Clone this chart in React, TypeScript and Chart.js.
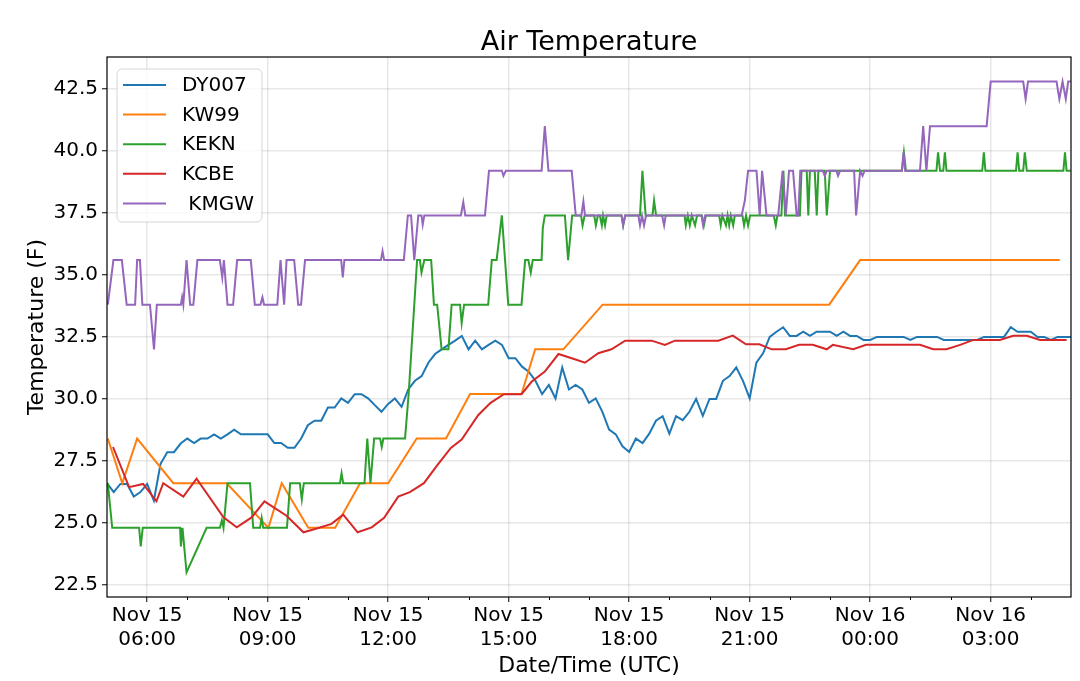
import React, { useEffect, useRef } from 'react';
import { Chart, registerables } from 'chart.js';

Chart.register(...registerables);

const FONT = "'DejaVu Sans', 'Liberation Sans', sans-serif";

// ---------- texts ----------
const titleText = 'Air Temperature';
const xAxisTitle = 'Date/Time (UTC)';
const yAxisTitle = 'Temperature (F)';

// ---------- series meta ----------
const seriesNames = ['DY007', 'KW99', 'KEKN', 'KCBE', ' KMGW'];
const seriesColors = ['#1f77b4', '#ff7f0e', '#2ca02c', '#d62728', '#9467bd'];

// ---------- axes (hours since Nov 15 00:00 UTC) ----------
const xMin = 5;
const xMax = 29;
const yMin = 22.01;
const yMax = 43.79;
const xTickHours = [6, 9, 12, 15, 18, 21, 24, 27];
const xTickDates = ['Nov 15', 'Nov 15', 'Nov 15', 'Nov 15', 'Nov 15', 'Nov 15', 'Nov 16', 'Nov 16'];
const xTickTimes = ['06:00', '09:00', '12:00', '15:00', '18:00', '21:00', '00:00', '03:00'];
const xMinorHours = [7, 8, 10, 11, 13, 14, 16, 17, 19, 20, 22, 23, 25, 26, 28];
const yTicks = [22.5, 25.0, 27.5, 30.0, 32.5, 35.0, 37.5, 40.0, 42.5];

// ---------- DY007 (10-minute observations starting 05:00) ----------
const dy007StartHour = 5;
const dy007StepHours = 1 / 6;
const dy007Values = [
  26.6, 26.24, 26.57, 26.57, 26.06, 26.24, 26.57, 25.9, 27.38, 27.85,
  27.85, 28.2, 28.4, 28.22, 28.4, 28.4, 28.57, 28.4, 28.57, 28.76,
  28.57, 28.57, 28.57, 28.57, 28.57, 28.22, 28.22, 28.03, 28.03, 28.4,
  28.94, 29.12, 29.12, 29.65, 29.65, 30.02, 29.84, 30.19, 30.19, 30.02,
  29.75, 29.48, 29.8, 30.02, 29.68, 30.38, 30.73, 30.92, 31.46, 31.81,
  32.0, 32.18, 32.35, 32.54, 32.0, 32.35, 32.0, 32.18, 32.35, 32.18,
  31.64, 31.64, 31.3, 31.1, 30.73, 30.19, 30.56, 30.02, 31.27, 30.38,
  30.56, 30.38, 29.84, 30.02, 29.48, 28.76, 28.57, 28.09, 27.86, 28.4,
  28.22, 28.6, 29.12, 29.3, 28.6, 29.3, 29.14, 29.48, 30.0, 29.32,
  30.0, 30.0, 30.73, 30.92, 31.27, 30.73, 30.02, 31.46, 31.84, 32.5,
  32.71, 32.89, 32.54, 32.54, 32.71, 32.54, 32.71, 32.71, 32.71, 32.54,
  32.71, 32.54, 32.54, 32.38, 32.38, 32.5, 32.5, 32.5, 32.5, 32.5,
  32.38, 32.5, 32.5, 32.5, 32.5, 32.38, 32.38, 32.38, 32.38, 32.38,
  32.38, 32.5, 32.5, 32.5, 32.5, 32.89, 32.71, 32.71, 32.71, 32.5,
  32.5, 32.38, 32.5, 32.5, 32.5,
];

// ---------- KW99 ----------
const kw99Times = [5.02, 5.38, 5.75, 6.65, 7.98, 9.02, 9.35, 10.01, 10.68, 11.3, 12.0, 12.71, 13.44, 14.04, 15.32, 15.66, 16.36, 17.34, 22.98, 23.75, 28.72];
const kw99Values = [28.4, 26.6, 28.4, 26.6, 26.6, 24.8, 26.6, 24.8, 24.8, 26.6, 26.6, 28.4, 28.4, 30.2, 30.2, 32.0, 32.0, 33.8, 33.8, 35.6, 35.6];

// ---------- KEKN ----------
const keknTimes = [
  5.02, 5.13, 5.8, 5.84, 5.89, 6.82, 6.84, 6.88, 6.98, 7.48,
  7.81, 7.86, 7.9, 8.0, 8.56, 8.64, 8.81, 8.85, 8.89, 9.48,
  9.56, 9.8, 9.85, 9.9, 10.8, 10.84, 10.88, 11.41, 11.48, 11.56,
  11.65, 11.8, 11.84, 11.88, 12.42, 12.51, 12.72, 12.79, 12.83, 12.9,
  13.07, 13.14, 13.22, 13.33, 13.5, 13.58, 13.79, 13.83, 13.89, 14.49,
  14.58, 14.7, 14.83, 14.99, 15.32, 15.41, 15.49, 15.55, 15.6, 15.82,
  15.85, 15.9, 16.4, 16.48, 16.58, 16.8, 16.84, 16.89, 17.13, 17.17,
  17.22, 17.27, 17.32, 17.35, 17.4, 17.44, 17.81, 17.85, 17.9, 18.27,
  18.33, 18.41, 18.58, 18.62, 18.67, 19.38, 19.41, 19.46, 19.51, 19.56,
  19.64, 19.69, 19.81, 19.86, 19.91, 20.24, 20.28, 20.32, 20.41, 20.45,
  20.49, 20.53, 20.59, 20.63, 20.82, 20.86, 20.91, 20.96, 21.01, 21.6,
  21.65, 21.69, 21.79, 21.84, 21.88, 22.25, 22.29, 22.42, 22.46, 22.5,
  22.62, 22.67, 22.71, 22.87, 22.92, 23.0, 24.79, 24.84, 24.89, 25.65,
  25.69, 25.74, 25.82, 25.86, 25.9, 26.79, 26.83, 26.87, 27.63, 27.67,
  27.71, 27.81, 27.85, 27.9, 28.81, 28.85, 28.89, 28.99,
];
const keknValues = [
  26.6, 24.8, 24.8, 24.05, 24.8, 24.8, 24.05, 24.8, 23.0, 24.8,
  24.8, 25.1, 24.8, 26.6, 26.6, 24.8, 24.8, 25.2, 24.8, 24.8,
  26.6, 26.6, 25.95, 26.6, 26.6, 27.0, 26.6, 26.6, 28.4, 26.6,
  28.4, 28.4, 28.06, 28.4, 28.4, 30.2, 35.6, 35.6, 35.1, 35.6,
  35.6, 33.8, 33.8, 32.0, 32.0, 33.8, 33.8, 33.06, 33.8, 33.8,
  35.6, 35.6, 37.4, 33.8, 33.8, 35.6, 35.6, 35.1, 35.6, 35.6,
  36.9, 37.4, 37.4, 35.6, 37.4, 37.4, 37.0, 37.4, 37.4, 37.0,
  37.4, 37.4, 37.0, 37.4, 37.0, 37.4, 37.4, 37.0, 37.4, 37.4,
  39.2, 37.4, 37.4, 38.0, 37.4, 37.4, 37.0, 37.4, 37.0, 37.4,
  37.0, 37.4, 37.4, 37.0, 37.4, 37.4, 37.0, 37.4, 37.0, 37.4,
  37.0, 37.4, 37.0, 37.4, 37.4, 37.0, 37.4, 37.0, 37.4, 37.4,
  37.0, 37.4, 37.4, 39.2, 37.4, 37.4, 39.2, 39.2, 37.4, 39.2,
  39.2, 37.4, 39.2, 39.2, 37.4, 39.2, 39.2, 39.94, 39.2, 39.2,
  39.94, 39.2, 39.2, 39.94, 39.2, 39.2, 39.94, 39.2, 39.2, 39.94,
  39.2, 39.2, 39.94, 39.2, 39.2, 39.94, 39.2, 39.2,
];

// ---------- KCBE ----------
const kcbeTimes = [
  5.15, 5.55, 5.9, 6.23, 6.4, 6.9, 7.23, 7.9, 8.23, 8.6,
  8.92, 9.47, 9.89, 10.18, 10.59, 10.88, 11.24, 11.59, 11.9, 12.25,
  12.54, 12.89, 13.22, 13.56, 13.83, 14.24, 14.55, 14.88, 15.32, 15.57,
  15.9, 16.24, 16.57, 16.9, 17.23, 17.56, 17.9, 18.56, 18.89, 19.14,
  20.22, 20.58, 20.91, 21.24, 21.55, 21.9, 22.23, 22.57, 22.92, 23.07,
  23.58, 23.9, 25.24, 25.57, 25.9, 26.24, 26.57, 27.23, 27.56, 27.9,
  28.23, 28.89,
];
const kcbeValues = [
  28.06, 26.44, 26.57, 25.87, 26.6, 26.06, 26.78, 25.22, 24.82, 25.22,
  25.87, 25.29, 24.62, 24.75, 24.96, 25.33, 24.62, 24.82, 25.2, 26.06,
  26.24, 26.6, 27.32, 28.02, 28.36, 29.34, 29.84, 30.19, 30.19, 30.69,
  31.1, 31.81, 31.64, 31.46, 31.84, 32.0, 32.35, 32.35, 32.18, 32.35,
  32.35, 32.55, 32.2, 32.2, 32.0, 32.0, 32.18, 32.18, 32.0, 32.18,
  32.0, 32.18, 32.18, 32.0, 32.0, 32.18, 32.38, 32.38, 32.55, 32.55,
  32.38, 32.38,
];

// ---------- KMGW ----------
const kmgwTimes = [
  5.02, 5.16, 5.37, 5.49, 5.7, 5.75, 5.82, 5.88, 6.07, 6.17,
  6.24, 6.84, 6.87, 6.9, 6.98, 7.07, 7.15, 7.25, 7.81, 7.87,
  7.91, 8.0, 8.14, 8.24, 8.58, 8.68, 8.82, 8.87, 8.91, 9.24,
  9.32, 9.41, 9.47, 9.66, 9.76, 9.83, 9.93, 10.83, 10.87, 10.91,
  11.82, 11.86, 11.9, 12.39, 12.49, 12.57, 12.65, 12.75, 12.83, 12.86,
  12.9, 13.81, 13.87, 13.92, 14.41, 14.51, 14.83, 14.87, 14.93, 15.82,
  15.9, 15.99, 16.57, 16.67, 16.81, 16.86, 16.9, 17.81, 17.85, 17.9,
  18.23, 18.27, 18.32, 18.37, 18.42, 18.82, 18.87, 18.91, 19.8, 19.84,
  19.89, 20.8, 20.88, 20.96, 21.17, 21.25, 21.31, 21.42, 21.71, 21.82,
  21.9, 21.98, 22.08, 22.17, 22.21, 22.26, 22.82, 22.87, 22.92, 23.16,
  23.2, 23.25, 23.6, 23.65, 23.75, 23.81, 23.86, 24.79, 24.83, 24.87,
  25.24, 25.32, 25.4, 25.49, 26.9, 27.0, 27.81, 27.87, 27.93, 28.64,
  28.71, 28.79, 28.87, 28.93, 28.99,
];
const kmgwValues = [
  33.8, 35.6, 35.6, 33.8, 33.8, 35.6, 35.6, 33.8, 33.8, 32.0,
  33.8, 33.8, 34.1, 33.8, 35.6, 33.8, 33.8, 35.6, 35.6, 34.9,
  35.6, 33.8, 33.8, 35.6, 35.6, 33.8, 33.8, 34.1, 33.8, 33.8,
  35.6, 33.8, 35.6, 35.6, 33.8, 33.8, 35.6, 35.6, 34.9, 35.6,
  35.6, 35.96, 35.6, 35.6, 37.4, 37.4, 35.6, 37.4, 37.4, 37.03,
  37.4, 37.4, 37.94, 37.4, 37.4, 39.2, 39.2, 39.0, 39.2, 39.2,
  41.0, 39.2, 39.2, 37.4, 37.4, 37.97, 37.4, 37.4, 37.0, 37.4,
  37.4, 37.0, 37.4, 37.0, 37.4, 37.4, 37.0, 37.4, 37.4, 37.0,
  37.4, 37.4, 38.0, 39.2, 39.2, 37.4, 39.2, 37.4, 37.4, 39.2,
  37.4, 39.2, 39.2, 37.4, 37.4, 39.2, 39.2, 39.0, 39.2, 39.2,
  39.0, 39.2, 39.2, 37.4, 39.2, 39.0, 39.2, 39.2, 39.94, 39.2,
  39.2, 41.0, 39.2, 41.0, 41.0, 42.8, 42.8, 42.1, 42.8, 42.8,
  42.1, 42.8, 42.1, 42.8, 42.8,
];

const dy007Times = dy007Values.map((_, i) => dy007StartHour + i * dy007StepHours);

const seriesTimes = [dy007Times, kw99Times, keknTimes, kcbeTimes, kmgwTimes];
const seriesValues = [dy007Values, kw99Values, keknValues, kcbeValues, kmgwValues];

const decorPlugin = {
  id: 'decor',
  beforeDraw(chart: any) {
    const { ctx, width, height } = chart;
    ctx.save();
    ctx.fillStyle = '#ffffff';
    ctx.fillRect(0, 0, width, height);
    ctx.restore();
  },
  afterDraw(chart: any) {
    const { ctx, chartArea: a, scales } = chart;
    const xs = scales.x;
    ctx.save();
    // frame
    ctx.strokeStyle = '#000';
    ctx.lineWidth = 1.2;
    ctx.strokeRect(a.left, a.top, a.right - a.left, a.bottom - a.top);
    // minor ticks
    ctx.lineWidth = 1;
    ctx.beginPath();
    xMinorHours.forEach((h) => {
      const px = Math.round(xs.getPixelForValue(h)) + 0.5;
      ctx.moveTo(px, a.bottom);
      ctx.lineTo(px, a.bottom + 3);
    });
    ctx.stroke();

    const cx = (a.left + a.right) / 2;
    ctx.fillStyle = '#000';
    ctx.textAlign = 'center';
    ctx.textBaseline = 'alphabetic';
    ctx.font = `27px ${FONT}`;
    ctx.fillText(titleText, cx, 50);
    ctx.font = `22px ${FONT}`;
    ctx.fillText(xAxisTitle, cx, 672);
    ctx.save();
    ctx.translate(43, (a.top + a.bottom) / 2);
    ctx.rotate(-Math.PI / 2);
    ctx.fillText(yAxisTitle, 0, 0);
    ctx.restore();

    // legend
    const lx = a.left + 10;
    const ly = a.top + 12;
    const lw = 145;
    const lh = 153;
    const r = 5;
    ctx.beginPath();
    ctx.moveTo(lx + r, ly);
    ctx.lineTo(lx + lw - r, ly);
    ctx.arcTo(lx + lw, ly, lx + lw, ly + r, r);
    ctx.lineTo(lx + lw, ly + lh - r);
    ctx.arcTo(lx + lw, ly + lh, lx + lw - r, ly + lh, r);
    ctx.lineTo(lx + r, ly + lh);
    ctx.arcTo(lx, ly + lh, lx, ly + lh - r, r);
    ctx.lineTo(lx, ly + r);
    ctx.arcTo(lx, ly, lx + r, ly, r);
    ctx.closePath();
    ctx.fillStyle = 'rgba(255,255,255,0.8)';
    ctx.fill();
    ctx.strokeStyle = 'rgba(204,204,204,0.8)';
    ctx.lineWidth = 1;
    ctx.stroke();

    ctx.font = `20px ${FONT}`;
    ctx.textAlign = 'left';
    ctx.textBaseline = 'middle';
    seriesNames.forEach((name, i) => {
      const yy = ly + 16 + i * 29.6;
      ctx.strokeStyle = seriesColors[i];
      ctx.lineWidth = 2;
      ctx.beginPath();
      ctx.moveTo(lx + 6, yy);
      ctx.lineTo(lx + 49, yy);
      ctx.stroke();
      ctx.fillStyle = '#000';
      ctx.fillText(name, lx + 65, yy + 1);
    });
    ctx.restore();
  },
};

export default function App() {
  const canvasRef = useRef<HTMLCanvasElement | null>(null);

  useEffect(() => {
    const canvas = canvasRef.current;
    if (!canvas) return;
    Chart.defaults.font.family = FONT;

    const datasets = seriesNames.map((name, i) => ({
      label: name,
      data: seriesTimes[i].map((t, j) => ({ x: t, y: seriesValues[i][j] })),
      borderColor: seriesColors[i],
      backgroundColor: seriesColors[i],
      borderWidth: 2,
      pointRadius: 0,
      pointHoverRadius: 0,
      tension: 0,
      fill: false,
      order: seriesNames.length - i,
    }));

    const chart = new Chart(canvas, {
      type: 'line',
      data: { datasets },
      plugins: [decorPlugin],
      options: {
        animation: false,
        responsive: true,
        maintainAspectRatio: false,
        devicePixelRatio: 1,
        layout: { padding: { left: 0, right: 9, top: 57, bottom: 0 } },
        plugins: {
          legend: { display: false },
          title: { display: false },
          tooltip: { enabled: false },
        },
        scales: {
          x: {
            type: 'linear',
            min: xMin,
            max: xMax,
            border: { display: false },
            grid: {
              color: 'rgba(176,176,176,0.3)',
              lineWidth: 1.5,
              tickColor: '#000',
              tickLength: 5,
              tickWidth: 1,
            },
            afterBuildTicks: (scale: any) => {
              scale.ticks = xTickHours.map((v) => ({ value: v }));
            },
            afterFit: (scale: any) => {
              scale.height = 84;
            },
            ticks: {
              autoSkip: false,
              maxRotation: 0,
              minRotation: 0,
              color: '#000',
              padding: 2,
              font: { size: 20, family: FONT, lineHeight: 1.2 },
              callback: (value: any) => {
                const k = xTickHours.indexOf(Number(value));
                return k >= 0 ? [xTickDates[k], xTickTimes[k]] : '';
              },
            },
          },
          y: {
            type: 'linear',
            min: yMin,
            max: yMax,
            border: { display: false },
            grid: {
              color: 'rgba(176,176,176,0.3)',
              lineWidth: 1.5,
              tickColor: '#000',
              tickLength: 5,
              tickWidth: 1,
            },
            afterBuildTicks: (scale: any) => {
              scale.ticks = yTicks.map((v) => ({ value: v }));
            },
            afterFit: (scale: any) => {
              scale.width = 107;
            },
            ticks: {
              color: '#000',
              padding: 4,
              font: { size: 20, family: FONT },
              callback: (value: any) => Number(value).toFixed(1),
            },
          },
        },
      },
    });
    return () => chart.destroy();
  }, []);

  return (
    <div style={{ position: 'absolute', left: 0, top: 0, width: 1080, height: 681, background: '#fff' }}>
      <canvas ref={canvasRef} />
    </div>
  );
}
